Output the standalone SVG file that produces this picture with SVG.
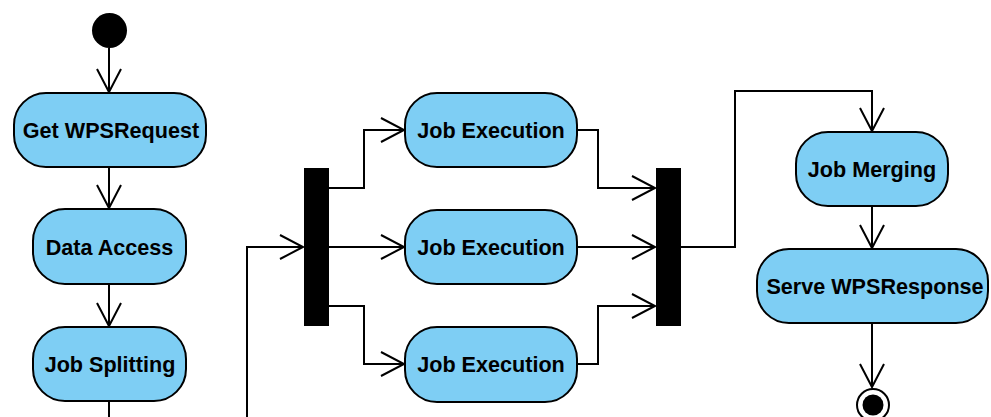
<svg xmlns="http://www.w3.org/2000/svg" width="991" height="417" viewBox="0 0 991 417">
<style>
.act rect{fill:#7ecef4;stroke:#000;stroke-width:2}
.act text{font-family:"Liberation Sans",Arial,sans-serif;font-weight:bold;font-size:21.6px;text-anchor:middle;fill:#000}
.bar{fill:#000}
#connectors path{fill:none;stroke:#000;stroke-width:2;marker-end:url(#arr)}
#connectors path.plain{marker-end:none}
</style>
<defs>
<marker id="arr" markerUnits="userSpaceOnUse" markerWidth="30" markerHeight="30" viewBox="-26 -14 30 28" refX="0" refY="0" orient="auto">
<path d="M-23,-12 L0,0 L-23,12" fill="none" stroke="#000" stroke-width="2"/>
</marker>
</defs>
<rect width="991" height="417" fill="#fff"/>
<g id="connectors">
<path d="M109,48 V92"/>
<path d="M109,167 V208"/>
<path d="M109,284 V326"/>
<path class="plain" d="M109,401 V417"/>
<path d="M247,417 V247 H303"/>
<path d="M329,188 H364 V130 H404"/>
<path d="M329,247 H404"/>
<path d="M329,306 H364 V364 H404"/>
<path d="M577,130 H598 V188 H655"/>
<path d="M577,247 H655"/>
<path d="M577,364 H598 V306 H655"/>
<path d="M681,247 H735 V91 H872 V131"/>
<path d="M872,206 V248"/>
<path d="M872,323 V387"/>
</g>
<g id="start"><circle cx="109.5" cy="30.5" r="17.5" fill="#000"/></g>
<g id="getreq" class="act"><rect x="14" y="93" width="192" height="74" rx="32"/><text x="111" y="138">Get WPSRequest</text></g>
<g id="dataaccess" class="act"><rect x="33" y="209" width="153" height="75" rx="32"/><text x="109.5" y="255">Data Access</text></g>
<g id="jobsplit" class="act"><rect x="33" y="327" width="153" height="74" rx="32"/><text x="110" y="372">Job Splitting</text></g>
<g id="fork"><rect class="bar" x="304" y="168" width="25" height="158"/></g>
<g id="exec1" class="act"><rect x="405" y="93" width="172" height="74" rx="32"/><text x="491" y="138">Job Execution</text></g>
<g id="exec2" class="act"><rect x="405" y="210" width="172" height="74" rx="32"/><text x="491" y="255">Job Execution</text></g>
<g id="exec3" class="act"><rect x="405" y="327" width="172" height="75" rx="32"/><text x="491" y="372">Job Execution</text></g>
<g id="join"><rect class="bar" x="656" y="168" width="25" height="158"/></g>
<g id="merge" class="act"><rect x="796" y="132" width="152" height="74" rx="32"/><text x="872" y="177">Job Merging</text></g>
<g id="serve" class="act"><rect x="757" y="249" width="231" height="74" rx="32"/><text x="875" y="294">Serve WPSResponse</text></g>
<g id="end"><circle cx="873" cy="405" r="16" fill="#fff" stroke="#000" stroke-width="2"/><circle cx="873" cy="405" r="10.5" fill="#000"/></g>
</svg>
